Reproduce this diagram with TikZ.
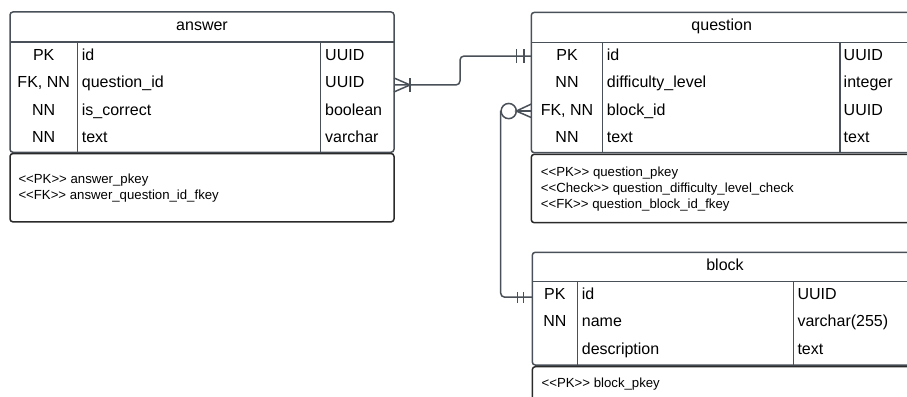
\documentclass[tikz,border=0pt]{standalone}
\usepackage{fontspec}
\setmainfont{Liberation Sans}
\begin{document}
\definecolor{linec}{HTML}{4A5058}
\definecolor{notec}{HTML}{2A2A2A}
\begin{tikzpicture}[x=1pt,y=-1pt,
  tbl/.style={draw=linec,line width=1.5pt,rounded corners=3pt,rectangle,inner sep=0pt,outer sep=0pt,anchor=north west},
  notebox/.style={draw=notec,line width=1.5pt,rounded corners=3pt,rectangle,inner sep=0pt,outer sep=0pt,anchor=north west},
  rowbox/.style={rectangle,inner sep=0pt,outer sep=0pt,anchor=north west,minimum height=27.5pt},
  hdr/.style={anchor=base,inner sep=0pt,font=\fontsize{16}{19}\selectfont},
  ctxt/.style={anchor=base,inner sep=0pt,font=\fontsize{16}{19}\selectfont},
  ltxt/.style={anchor=base west,inner sep=0pt,font=\fontsize{16}{19}\selectfont},
  ntxt/.style={anchor=base west,inner sep=0pt,font=\fontsize{13.2}{16}\selectfont},
  sep/.style={draw=linec,line width=1.5pt},
  conn/.style={draw=linec,line width=1.5pt,rounded corners=4pt},
  crow/.style={draw=linec,line width=1.5pt}
]
\useasboundingbox (0,0) rectangle (907,396);
\clip (0,0) rectangle (907,396);

% ---------------- answer ----------------
\node[tbl,minimum width=384pt,minimum height=140.3pt] (answer) at (10,12) {};
\draw[sep] (10,42) -- (394,42);
\draw[sep] (77.3,42) -- (77.3,152.3);
\draw[sep] (320.7,42) -- (320.7,152.3);
\node[hdr] (answerH) at (202,30.7) {answer};
\node[rowbox,minimum width=384pt] (a1) at (10,42) {};
\node[rowbox,minimum width=384pt] (a2) at (10,69.5) {};
\node[rowbox,minimum width=384pt] (a3) at (10,97) {};
\node[rowbox,minimum width=384pt] (a4) at (10,124.5) {};
\node[ctxt] (a1k) at (43.7,60) {PK};
\node[ctxt] (a2k) at (43.7,87.5) {FK, NN};
\node[ctxt] (a3k) at (43.7,115) {NN};
\node[ctxt] (a4k) at (43.7,142.5) {NN};
\node[ltxt] (a1n) at (81.7,60) {id};
\node[ltxt] (a2n) at (81.7,87.5) {question\_id};
\node[ltxt] (a3n) at (81.7,115) {is\_correct};
\node[ltxt] (a4n) at (81.7,142.5) {text};
\node[ltxt] (a1t) at (325,60) {UUID};
\node[ltxt] (a2t) at (325,87.5) {UUID};
\node[ltxt] (a3t) at (325,115) {boolean};
\node[ltxt] (a4t) at (325,142.5) {varchar};
\node[notebox,minimum width=384pt,minimum height=68.4pt] (answerN) at (10,153.5) {};
\node[ntxt] (an1) at (18.3,183) {<{}<PK>{}> answer\_pkey};
\node[ntxt] (an2) at (18.3,199) {<{}<FK>{}> answer\_question\_id\_fkey};

% ---------------- question ----------------
\node[tbl,minimum width=381pt,minimum height=140.3pt] (question) at (531.3,12.4) {};
\draw[sep] (531.3,42.3) -- (912.3,42.3);
\draw[sep] (602.3,42.3) -- (602.3,152.7);
\draw[sep] (840,42.3) -- (840,152.7);
\node[hdr] (questionH) at (721.7,30.7) {question};
\node[rowbox,minimum width=381pt] (q1) at (531.3,42.3) {};
\node[rowbox,minimum width=381pt] (q2) at (531.3,69.8) {};
\node[rowbox,minimum width=381pt] (q3) at (531.3,97.3) {};
\node[rowbox,minimum width=381pt] (q4) at (531.3,124.8) {};
\node[ctxt] (q1k) at (567,60) {PK};
\node[ctxt] (q2k) at (567,87.5) {NN};
\node[ctxt] (q3k) at (567,115) {FK, NN};
\node[ctxt] (q4k) at (567,142.5) {NN};
\node[ltxt] (q1n) at (606.7,60) {id};
\node[ltxt] (q2n) at (606.7,87.5) {difficulty\_level};
\node[ltxt] (q3n) at (606.7,115) {block\_id};
\node[ltxt] (q4n) at (606.7,142.5) {text};
\node[ltxt] (q1t) at (843.5,60) {UUID};
\node[ltxt] (q2t) at (843.5,87.5) {integer};
\node[ltxt] (q3t) at (843.5,115) {UUID};
\node[ltxt] (q4t) at (843.5,142.5) {text};
\node[notebox,minimum width=381pt,minimum height=68.4pt] (questionN) at (531.3,154.3) {};
\node[ntxt] (qn1) at (540.7,176.5) {<{}<PK>{}> question\_pkey};
\node[ntxt] (qn2) at (540.7,192.3) {<{}<Check>{}> question\_difficulty\_level\_check};
\node[ntxt] (qn3) at (540.7,208) {<{}<FK>{}> question\_block\_id\_fkey};

% ---------------- block ----------------
\node[tbl,minimum width=386pt,minimum height=112.7pt] (block) at (532.3,252.3) {};
\draw[sep] (532.3,281.7) -- (918.3,281.7);
\draw[sep] (577.3,281.7) -- (577.3,365);
\draw[sep] (793.3,281.7) -- (793.3,365);
\node[hdr] (blockH) at (725,270.7) {block};
\node[rowbox,minimum width=386pt,minimum height=27.8pt] (b1) at (532.3,281.7) {};
\node[rowbox,minimum width=386pt,minimum height=27.8pt] (b2) at (532.3,309.5) {};
\node[rowbox,minimum width=386pt,minimum height=27.8pt] (b3) at (532.3,337.3) {};
\node[ctxt] (b1k) at (554.8,299) {PK};
\node[ctxt] (b2k) at (554.8,326.7) {NN};
\node[ltxt] (b1n) at (581.7,299) {id};
\node[ltxt] (b2n) at (581.7,326.7) {name};
\node[ltxt] (b3n) at (581.7,354.3) {description};
\node[ltxt] (b1t) at (797.3,299) {UUID};
\node[ltxt] (b2t) at (797.3,326.7) {varchar(255)};
\node[ltxt] (b3t) at (797.3,354.3) {text};
\node[notebox,minimum width=386pt,minimum height=60pt] (blockN) at (532.3,366.7) {};
\node[ntxt] (bn1) at (541.5,387.7) {<{}<PK>{}> block\_pkey};

% ---------------- connectors ----------------
% answer.question_id  >|----||  question.id
\coordinate (c1) at ([xshift=66pt]a2.east);
\draw[conn] ([yshift=-1.7pt]a2.east) -- ([yshift=-1.7pt]c1) -- (c1 |- q1.west) -- (q1.west);
\draw[crow] ([yshift=-8.7pt]a2.east) -- ([xshift=16pt,yshift=-1.7pt]a2.east) -- ([yshift=5.3pt]a2.east);
\draw[crow] ([xshift=16pt,yshift=-8.7pt]a2.east) -- ([xshift=16pt,yshift=5.3pt]a2.east);
\draw[crow] ([xshift=-14.6pt,yshift=-7pt]q1.west) -- ([xshift=-14.6pt,yshift=7pt]q1.west);
\draw[crow] ([xshift=-7.3pt,yshift=-7pt]q1.west) -- ([xshift=-7.3pt,yshift=7pt]q1.west);

% question.block_id  O<----||  block.id
\coordinate (c2) at ([xshift=-30.6pt]q3.west);
\coordinate (zc) at ([xshift=-22.6pt]q3.west);
\draw[crow] (zc) circle[radius=7.6pt];
\draw[conn] ([yshift=0.5pt]c2) -- ([yshift=-1.6pt]c2 |- b1.west) -- ([yshift=-1.6pt]b1.west);
\draw[crow] ([yshift=-6.5pt]q3.west) -- ([xshift=-15pt]q3.west) -- ([yshift=7pt]q3.west);
\draw[crow] ([xshift=-15pt]q3.west) -- (q3.west);
\draw[crow] ([xshift=-15pt,yshift=-7.2pt]b1.west) -- ([xshift=-15pt,yshift=4pt]b1.west);
\draw[crow] ([xshift=-9pt,yshift=-7.2pt]b1.west) -- ([xshift=-9pt,yshift=4pt]b1.west);
\end{tikzpicture}
\end{document}
